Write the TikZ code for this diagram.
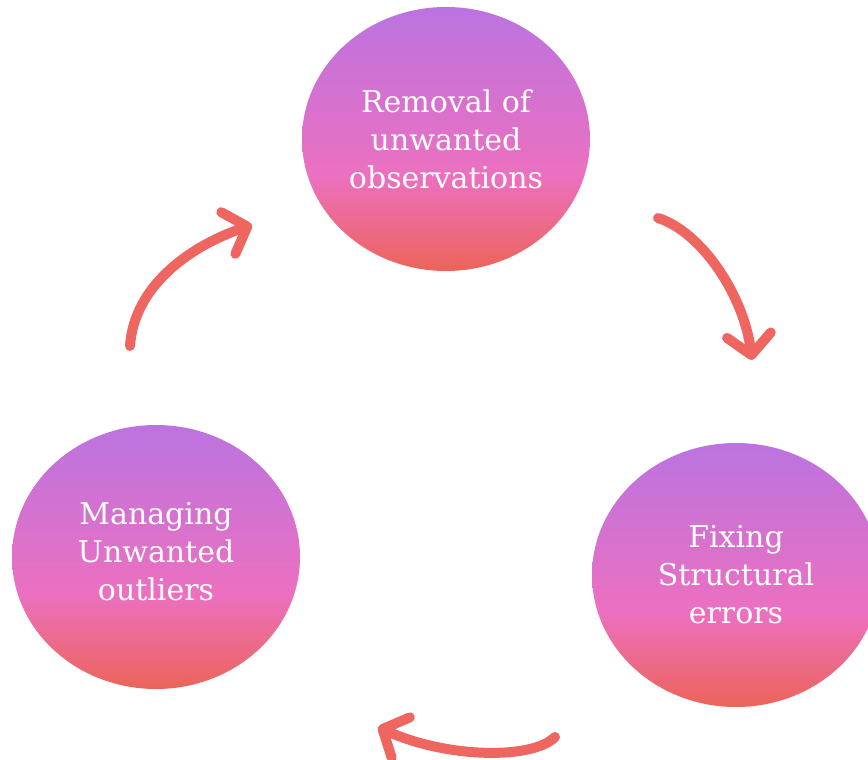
\documentclass[tikz,border=0pt]{standalone}
\usepackage{fontspec}
\setmainfont{DejaVu Serif}
\usetikzlibrary{shapes.geometric,arrows.meta}

\definecolor{bubbletop}{HTML}{BB73E0}
\definecolor{bubblemid}{HTML}{EC70C0}
\definecolor{bubblebot}{HTML}{EC6458}
\definecolor{arrowred}{HTML}{EE665F}

\pgfdeclareverticalshading{bubbleshade}{100bp}{color(0bp)=(bubblebot); color(25bp)=(bubblebot); color(43bp)=(bubblemid); color(75bp)=(bubbletop); color(100bp)=(bubbletop)}

\tikzset{
	bubble/.style={ellipse, shade, shading=bubbleshade, minimum width=288pt, minimum height=264pt,
		inner sep=0pt, align=center, text=white, font=\fontsize{30}{38}\selectfont},
	cyclearrow/.style={draw=arrowred, line width=10pt, line cap=round, line join=round,
		-{Straight Barb[length=20pt, width=44pt, round]}}
}

\begin{document}
\begin{tikzpicture}[x=1pt, y=-1pt]
		\useasboundingbox (0, 0) rectangle (868, 760);

		\node[bubble] (removal)	at (446, 139) {Removal of\\unwanted\\observations};
		\node[bubble] (fixing)	at (736, 575) {Fixing\\Structural\\errors};
		\node[bubble, text depth=12pt] (managing)	at (156, 557) {Managing\\Unwanted\\outliers};

		\coordinate (up start)		at (130, 346);
		\coordinate (up end)		at (252, 225);
		\coordinate (down start)	at (658, 218);
		\coordinate (down end)		at (752, 360);
		\coordinate (back start)	at (555, 737);
		\coordinate (back end)		at (378, 727);

		\draw[cyclearrow]	(up start) .. controls (134, 286) and (190, 246) .. (up end);
		\draw[cyclearrow]	(down start) .. controls (702, 232) and (744, 296) .. (down end);
		\draw[cyclearrow]	(back start) .. controls (532, 760) and (446, 758) .. (back end);
	\end{tikzpicture}
\end{document}
